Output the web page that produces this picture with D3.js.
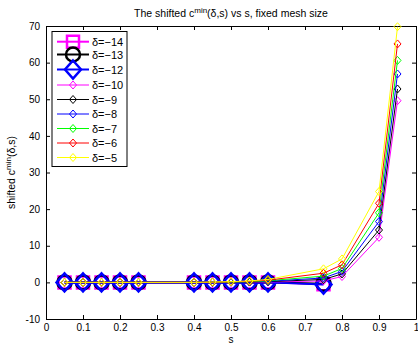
<!DOCTYPE html>
<html><head><meta charset="utf-8">
<script src="https://cdn.jsdelivr.net/npm/d3@7"></script>
<style>body{margin:0;background:#fff}svg{display:block}text{font-family:"Liberation Sans",Arial,sans-serif}</style>
</head><body>
<script>
const sValues = [0.05,0.1,0.15,0.2,0.25,0.4,0.45,0.5,0.55,0.6,0.75,0.8,0.9,0.95];
const d14 = [0,0,0,0,0,0,0,0,0,0,-0.5,null,null,null];
const d13 = [0,0,0,0,0,0,0,0,0,0,-0.4,null,null,null];
const d12 = [0,0,0,0,0,0,0,0,0,0,-0.6,null,null,null];
const d10 = [0,0,0,0,0,0,0,0.05,0.05,0.1,0.4,1.6,12.3,49.6];
const d9  = [0,0,0,0,0,0,0,0.05,0.1,0.2,0.8,2.3,14.3,52.8];
const d8  = [0,0,0,0,0,0,0.05,0.1,0.15,0.3,1.2,3.0,16.6,56.9];
const d7  = [0,0,0,0,0,0,0.05,0.1,0.2,0.45,1.7,3.8,19.0,60.6];
const d6  = [0,0,0,0,0,0,0.05,0.15,0.3,0.6,2.5,4.8,21.6,65.1];
const d5  = [0,0,0,0,0,0,0.1,0.2,0.4,0.8,3.7,6.4,24.8,69.8];
const seriesNames = ["δ=−14","δ=−13","δ=−12","δ=−10","δ=−9","δ=−8","δ=−7","δ=−6","δ=−5"];
const seriesValues = [d14,d13,d12,d10,d9,d8,d7,d6,d5];
const seriesColors = ["#ff00ff","#000000","#0000ff","#ff00ff","#000000","#0000ff","#00ff00","#ff0000","#ffff00"];
const seriesMarkers = ["square","circle","bigdiamond","diamond","diamond","diamond","diamond","diamond","diamond"];
const xTicks = [0,0.1,0.2,0.3,0.4,0.5,0.6,0.7,0.8,0.9,1];
const yTicks = [-10,0,10,20,30,40,50,60,70];

const W=418,H=344;
const m={l:46,r:416,t:26,b:319};
const svg=d3.select("body").append("svg").attr("width",W).attr("height",H);
const x=d3.scaleLinear().domain([0,1]).range([m.l,m.r]);
const y=d3.scaleLinear().domain([-10,70]).range([m.b,m.t]);

svg.append("clipPath").attr("id","c").append("rect")
  .attr("x",m.l).attr("y",m.t-12).attr("width",m.r-m.l).attr("height",m.b-m.t+12);

const fmt=d=>String(d);
const gB=svg.append("g").attr("transform",`translate(0,${m.b})`)
  .call(d3.axisBottom(x).tickValues(xTicks).tickFormat(fmt).tickSizeInner(-4).tickSizeOuter(0).tickPadding(5));
const gT=svg.append("g").attr("transform",`translate(0,${m.t})`)
  .call(d3.axisTop(x).tickValues(xTicks).tickFormat("").tickSizeInner(-4).tickSizeOuter(0));
const gL=svg.append("g").attr("transform",`translate(${m.l},0)`)
  .call(d3.axisLeft(y).tickValues(yTicks).tickFormat(fmt).tickSizeInner(-4).tickSizeOuter(0).tickPadding(6));
const gR=svg.append("g").attr("transform",`translate(${m.r},0)`)
  .call(d3.axisRight(y).tickValues(yTicks).tickFormat("").tickSizeInner(-4).tickSizeOuter(0));
[gB,gT,gL,gR].forEach(g=>{
  g.select(".domain").attr("stroke","#000").attr("stroke-width",1);
  g.selectAll(".tick line").attr("stroke","#000");
  g.selectAll("text").attr("font-size",10).attr("fill","#000");
});

function markerPath(type){
  if(type==="square") return "M-6,-6H6V6H-6Z";
  if(type==="circle") return d3.arc()({innerRadius:0,outerRadius:7,startAngle:0,endAngle:2*Math.PI});
  if(type==="bigdiamond") return "M0,-9L8,0L0,9L-8,0Z";
  return "M0,-4L3.5,0L0,4L-3.5,0Z";
}

const plot=svg.append("g").attr("clip-path","url(#c)");
seriesValues.forEach((vals,i)=>{
  const pts=sValues.map((s,j)=>({s,v:vals[j]})).filter(p=>p.v!==null);
  const thick=i<3;
  const g=plot.append("g");
  g.append("path").datum(pts)
    .attr("d",d3.line().x(p=>x(p.s)).y(p=>y(p.v)))
    .attr("fill","none").attr("stroke",seriesColors[i]).attr("stroke-width",thick?2:1);
  g.selectAll("path.mk").data(pts).enter().append("path").attr("class","mk")
    .attr("d",markerPath(seriesMarkers[i]))
    .attr("transform",p=>`translate(${x(p.s)},${y(p.v)})`)
    .attr("fill","none").attr("stroke",seriesColors[i]).attr("stroke-width",thick?2.5:1);
});

const lg=svg.append("g");
lg.append("rect").attr("x",52).attr("y",31.5).attr("width",75).attr("height",135)
  .attr("fill","#fff").attr("stroke","#000").attr("stroke-width",1);
const legY=[41.7,54.5,69.5,85,99.5,114,128.5,143,157.5];
seriesNames.forEach((name,i)=>{
  const thick=i<3;
  const yy=legY[i];
  lg.append("line").attr("x1",57).attr("x2",89).attr("y1",yy).attr("y2",yy)
    .attr("stroke",seriesColors[i]).attr("stroke-width",thick?2:1);
  lg.append("path").attr("d",markerPath(seriesMarkers[i]))
    .attr("transform",`translate(73,${yy})`)
    .attr("fill","none").attr("stroke",seriesColors[i]).attr("stroke-width",thick?2.5:1);
  lg.append("text").attr("x",92).attr("y",yy+4).attr("font-size",11).text(name);
});

const t=svg.append("text").attr("x",(m.l+m.r)/2).attr("y",17).attr("text-anchor","middle").attr("font-size",10.5);
t.append("tspan").text("The shifted c");
t.append("tspan").attr("dy",-4).attr("font-size",8).text("min");
t.append("tspan").attr("dy",4).text("(δ,s) vs s, fixed mesh size");

svg.append("text").attr("x",(m.l+m.r)/2).attr("y",343).attr("text-anchor","middle").attr("font-size",10).text("s");

const yl=svg.append("text").attr("transform",`translate(15,${(m.t+m.b)/2}) rotate(-90)`)
  .attr("text-anchor","middle").attr("font-size",10.5);
yl.append("tspan").text("shifted c");
yl.append("tspan").attr("dy",-4).attr("font-size",8).text("min");
yl.append("tspan").attr("dy",4).text("(δ,s)");
</script>
</body></html>
